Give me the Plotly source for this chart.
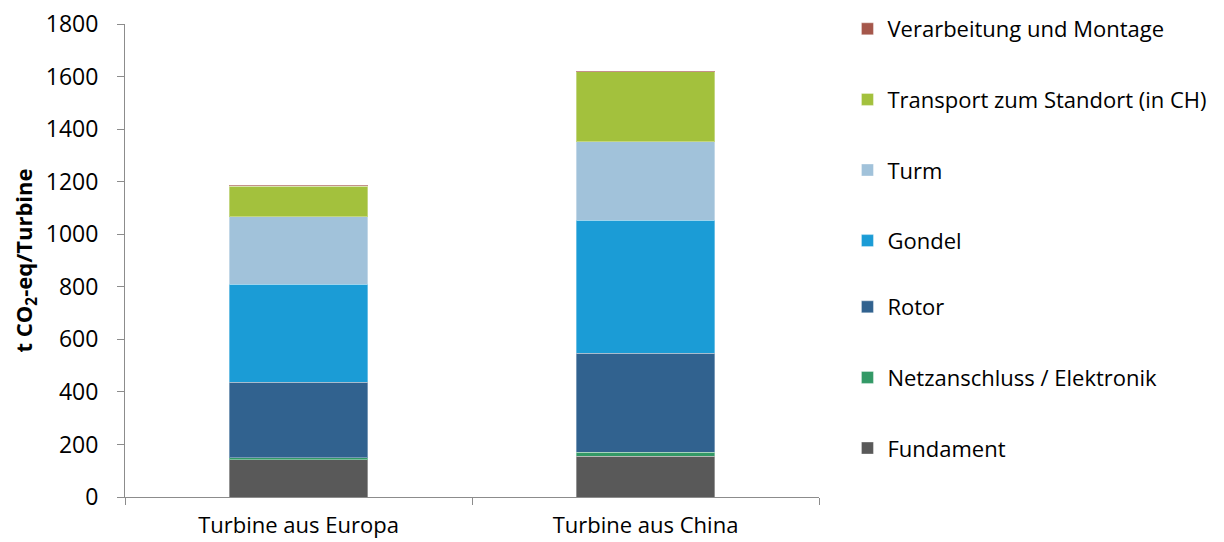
import plotly.graph_objects as go

categories = ["Turbine aus Europa", "Turbine aus China"]
series_names = ["Fundament", "Netzanschluss / Elektronik", "Rotor", "Gondel", "Turm",
                "Transport zum Standort (in CH)", "Verarbeitung und Montage"]
fundament = [142, 156]
netzanschluss = [7, 14]
rotor = [287, 377]
gondel = [373, 507]
turm = [258, 297]
transport = [116, 267]
verarbeitung = [3, 4]
colors = ["#595959", "#339966", "#31628F", "#1B9CD6", "#A1C2DA", "#A3C13D", "#A5574B"]

values = [fundament, netzanschluss, rotor, gondel, turm, transport, verarbeitung]

fig = go.Figure()
for i, (name, vals, col) in enumerate(zip(series_names, values, colors)):
    fig.add_trace(go.Bar(
        x=categories, y=vals, name=name, legendgroup=str(i), legendrank=100 - 10 * i,
        legend="legend2" if i < 3 else "legend",
        marker=dict(color=col, line=dict(color="rgba(255,255,255,0.35)", width=1)),
    ))

font = "Open Sans, Liberation Sans, sans-serif"
axis_col = "#8C8C8C"
leg_common = dict(xanchor="left", yanchor="top", traceorder="grouped", tracegroupgap=39,
                  font=dict(size=22, color="#000000"), itemwidth=30, borderwidth=0)
fig.update_layout(
    width=1216, height=534,
    barmode="stack", bargap=0.6,
    plot_bgcolor="white", paper_bgcolor="white",
    margin=dict(l=117, r=405, t=16, b=45, autoexpand=False),
    font=dict(family=font, size=23, color="#000000"),
    legend=dict(x=1.041, y=1.0338, **leg_common),
    legend2=dict(x=1.041, y=0.446, **leg_common),
    xaxis=dict(
        showline=True, linecolor=axis_col, linewidth=1,
        ticks="outside", tickson="boundaries", ticklen=7, tickcolor=axis_col,
        tickfont=dict(size=22), ticklabelstandoff=9, ticklabeloverflow="allow",
    ),
    yaxis=dict(
        range=[0, 1800], dtick=200, showgrid=False, zeroline=False,
        showline=True, linecolor=axis_col, linewidth=1,
        ticks="outside", ticklen=7, tickcolor=axis_col,
        tickfont=dict(size=23), ticklabelstandoff=14, ticklabeloverflow="allow",
        title=dict(text="<b>t CO<sub>2</sub>-eq/Turbine</b>", font=dict(size=22), standoff=12),
    ),
)

fig.write_html("out.html")
